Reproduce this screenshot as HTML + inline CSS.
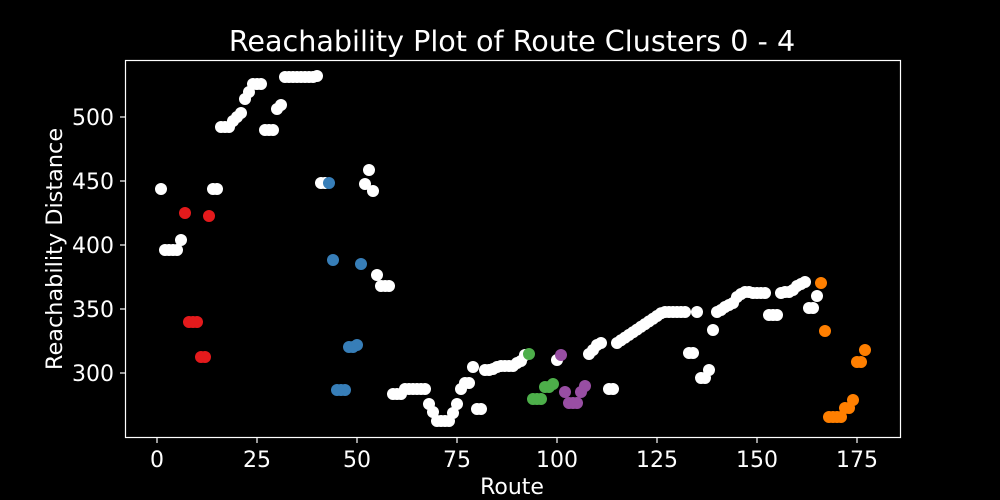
<!DOCTYPE html>
<html><head><meta charset="utf-8"><style>
html,body{margin:0;padding:0;background:#000;}
svg{display:block;font-family:"DejaVu Sans","Liberation Sans",sans-serif;}
</style></head><body>
<svg id="s" width="1000" height="500" xmlns="http://www.w3.org/2000/svg">
<rect width="1000" height="500" fill="#000"/>
<text x="512" y="51" fill="#fff" font-size="28.6" text-anchor="middle">Reachability Plot of Route Clusters 0 - 4</text>
<rect x="125.5" y="60.5" width="775" height="377" fill="none" stroke="#fff" stroke-width="1.2"/>
<g stroke="#fff" stroke-width="1.2">
<line x1="157" y1="438" x2="157" y2="443"/><line x1="257" y1="438" x2="257" y2="443"/><line x1="357" y1="438" x2="357" y2="443"/><line x1="457" y1="438" x2="457" y2="443"/><line x1="557" y1="438" x2="557" y2="443"/><line x1="657" y1="438" x2="657" y2="443"/><line x1="757" y1="438" x2="757" y2="443"/><line x1="857" y1="438" x2="857" y2="443"/>
<line x1="120" y1="117" x2="125" y2="117"/><line x1="120" y1="181" x2="125" y2="181"/><line x1="120" y1="245" x2="125" y2="245"/><line x1="120" y1="309" x2="125" y2="309"/><line x1="120" y1="373" x2="125" y2="373"/>
</g>
<g fill="#fff" font-size="22" text-anchor="middle">
<text x="157" y="467">0</text><text x="257" y="467">25</text><text x="357" y="467">50</text><text x="457" y="467">75</text><text x="557" y="467">100</text><text x="657" y="467">125</text><text x="757" y="467">150</text><text x="857" y="467">175</text>
<text x="512" y="494">Route</text>
</g>
<g fill="#fff" font-size="22" text-anchor="end">
<text x="114" y="125">500</text><text x="114" y="189">450</text><text x="114" y="253">400</text><text x="114" y="317">350</text><text x="114" y="381">300</text>
</g>
<text transform="translate(62,249) rotate(-90)" fill="#fff" font-size="22.4" text-anchor="middle">Reachability Distance</text>
<g id="pts"></g>
</svg>
<script>
var W='#fff',R='#e41a1c',B='#377eb8',G='#4daf4a',P='#984ea3',O='#ff7f00';
var d=[
[161,189,W],[165,250,W],[169,250,W],[173,250,W],[177,250,W],[181,240,W],
[185,213,R],[189,322,R],[193,322,R],[197,322,R],[201,357,R],[205,357,R],[209,216,R],
[213,189,W],[217,189,W],[221,127,W],[225,127,W],[229,127,W],[233,121,W],[237,117,W],[241,113,W],[245,99,W],[249,92,W],[253,84,W],[257,84,W],[261,84,W],
[265,130,W],[269,130,W],[273,130,W],[277,109,W],[281,105,W],
[285,77,W],[289,77,W],[293,77,W],[297,77,W],[301,77,W],[305,77,W],[309,77,W],[313,77,W],[317,76,W],
[321,183,W],[325,183,W],[329,183,B],[333,260,B],[337,390,B],[341,390,B],[345,390,B],[349,347,B],[353,347,B],[357,345,B],[361,264,B],
[365,184,W],[369,170,W],[373,191,W],[377,275,W],[381,286,W],[385,286,W],[389,286,W],
[393,394,W],[397,394,W],[401,394,W],[405,389,W],[409,389,W],[413,389,W],[417,389,W],[421,389,W],[425,389,W],
[429,404,W],[433,412,W],[437,421,W],[441,421,W],[445,421,W],[449,421,W],[453,413,W],[457,404,W],[461,389,W],[465,383,W],[469,383,W],[473,367,W],[477,409,W],[481,409,W],
[485,370,W],[489,370,W],[493,369,W],[497,367,W],[501,366,W],[505,366,W],[509,366,W],[513,366,W],[517,363,W],[521,361,W],[525,355,W],
[529,354,G],[533,399,G],[537,399,G],[541,399,G],[545,387,G],[549,387,G],[553,384,G],
[557,360,W],[561,355,P],[565,392,P],[569,403,P],[573,403,P],[577,403,P],[581,392,P],[585,386,P],
[589,354,W],[593,350,W],[597,345,W],[601,343,W],[609,389,W],[613,389,W]];
for(var i=0;i<12;i++)d.push([617+i*4,343-i*2.7,W]);
[665,669,673,677,681,685].forEach(function(x){d.push([x,312,W])});
d=d.concat([[689,353,W],[693,353,W],[697,312,W],[701,378,W],[705,378,W],[709,370,W],[713,330,W],
[717,312,W],[721,310,W],[725,307,W],[729,305,W],[733,303,W],
[737,297,W],[741,294,W],[745,292,W],[749,292,W],[753,293,W],[757,293,W],[761,293,W],[765,293,W],
[769,315,W],[773,315,W],[777,315,W],
[781,293,W],[785,292,W],[789,292,W],[793,290,W],[797,286,W],[801,284,W],[805,282,W],
[809,308,W],[813,308,W],[817,296,W],
[821,283,O],[825,331,O],[829,417,O],[833,417,O],[837,417,O],[841,417,O],[845,408,O],[849,408,O],[853,400,O],[857,362,O],[861,362,O],[865,350,O]]);
var g=document.getElementById('pts'),h='';
d.forEach(function(p){h+='<circle cx="'+p[0]+'" cy="'+p[1]+'" r="6" fill="'+p[2]+'"/>';});
g.innerHTML=h;
</script>
</body></html>
